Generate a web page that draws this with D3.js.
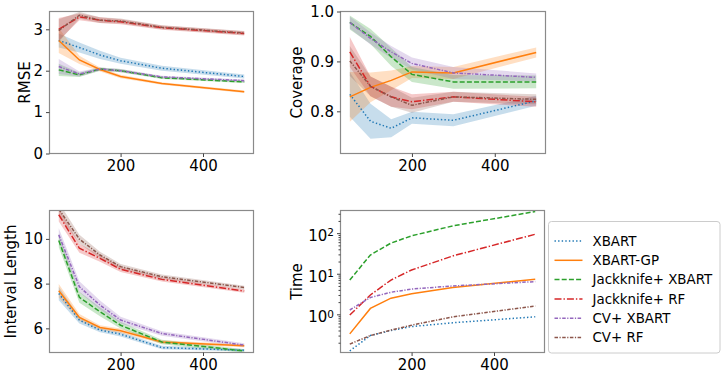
<!DOCTYPE html>
<html>
<head>
<meta charset="utf-8">
<script src="https://cdn.jsdelivr.net/npm/d3@7"></script>
<style>
  body { margin: 0; background: #fff; }
  text { font-family: "DejaVu Sans", sans-serif; }
</style>
</head>
<body>
<div id="chart"></div>
<script>
// sample sizes on the x axis
var sampleSizes = [50, 100, 150, 200, 300, 500];
var methods = ["XBART", "XBART-GP", "Jackknife+ XBART", "Jackknife+ RF", "CV+ XBART", "CV+ RF"];
var colors = ["#1f77b4", "#ff7f0e", "#2ca02c", "#d62728", "#9467bd", "#8c564b"];
var dashes = ["1.4,2.2", null, "5,2.2", "7,2,1.4,2", "3.5,1.5,1.2,1.5", "3.5,1.5,1.2,1.5"];

// one row per method, same order as `methods`
var rmse = [
  [2.73, 2.56, 2.38, 2.24, 2.06, 1.86],
  [2.73, 2.26, 2.03, 1.86, 1.69, 1.49],
  [2.02, 1.90, 2.04, 2.00, 1.83, 1.73],
  [3.00, 3.30, 3.22, 3.18, 3.04, 2.90],
  [2.10, 1.92, 2.04, 2.00, 1.85, 1.76],
  [2.97, 3.34, 3.22, 3.20, 3.05, 2.91]
];
var rmseSd = [
  [0.17, 0.12, 0.10, 0.07, 0.06, 0.05],
  [0.30, 0.10, 0.05, 0.04, 0.03, 0.03],
  [0.15, 0.05, 0.04, 0.04, 0.03, 0.03],
  [0.27, 0.08, 0.07, 0.06, 0.05, 0.05],
  [0.18, 0.06, 0.04, 0.04, 0.03, 0.03],
  [0.27, 0.08, 0.07, 0.06, 0.05, 0.05]
];

var coverage = [
  [0.834, 0.780, 0.766, 0.787, 0.782, 0.821],
  [0.829, 0.848, 0.862, 0.879, 0.877, 0.918],
  [0.978, 0.950, 0.909, 0.874, 0.859, 0.859],
  [0.919, 0.850, 0.829, 0.819, 0.829, 0.819],
  [0.978, 0.946, 0.919, 0.896, 0.877, 0.868],
  [0.901, 0.850, 0.829, 0.812, 0.829, 0.824]
];
var coverageSd = [
  [0.045, 0.035, 0.018, 0.012, 0.012, 0.010],
  [0.050, 0.030, 0.020, 0.012, 0.012, 0.010],
  [0.014, 0.015, 0.018, 0.015, 0.014, 0.013],
  [0.030, 0.020, 0.020, 0.015, 0.010, 0.010],
  [0.012, 0.012, 0.012, 0.012, 0.012, 0.008],
  [0.030, 0.020, 0.020, 0.015, 0.010, 0.010]
];

var intervalLength = [
  [7.56, 6.37, 5.92, 5.74, 5.14, 5.02],
  [7.68, 6.49, 6.04, 5.89, 5.39, 5.22],
  [9.93, 7.39, 6.74, 6.14, 5.39, 4.99],
  [11.08, 9.58, 9.13, 8.64, 8.19, 7.67],
  [10.18, 7.86, 7.04, 6.37, 5.77, 5.25],
  [11.33, 9.99, 9.28, 8.76, 8.31, 7.83]
];
var intervalSd = [
  [0.30, 0.15, 0.10, 0.10, 0.08, 0.06],
  [0.30, 0.15, 0.10, 0.10, 0.08, 0.06],
  [0.30, 0.25, 0.20, 0.15, 0.10, 0.08],
  [0.30, 0.20, 0.15, 0.12, 0.10, 0.08],
  [0.30, 0.25, 0.20, 0.15, 0.10, 0.08],
  [0.30, 0.20, 0.15, 0.12, 0.10, 0.08]
];

var timeSec = [
  [0.126, 0.30, 0.40, 0.50, 0.62, 0.87],
  [0.33, 1.4, 2.5, 3.2, 4.6, 7.3],
  [7.0, 29, 57, 86, 151, 341],
  [0.96, 3.0, 7.0, 12.4, 27.5, 94],
  [1.28, 2.6, 3.5, 4.2, 5.0, 6.4],
  [0.185, 0.30, 0.41, 0.54, 0.87, 1.6]
];

var xTicks = [200, 400];

var W = 726, H = 379;
var svg = d3.select("#chart").append("svg")
    .attr("width", W)
    .attr("height", H);

// panel boxes (pixel positions of each axes)
var panels = [
  {id: "p1", left: 49.5, top: 11.5, right: 253.5, bottom: 153.5, label: "RMSE", labelX: 30,
   values: rmse, sd: rmseSd, yDomain: [0, 3.43], yTicks: [0, 1, 2, 3], fmt: d3.format("d")},
  {id: "p2", left: 340.5, top: 11.5, right: 545.5, bottom: 153.5, label: "Coverage", labelX: 302,
   values: coverage, sd: coverageSd, yDomain: [0.7155, 1.0], yTicks: [0.8, 0.9, 1.0], fmt: d3.format(".1f")},
  {id: "p3", left: 49.5, top: 210.5, right: 253.5, bottom: 352.5, label: "Interval Length", labelX: 16,
   values: intervalLength, sd: intervalSd, yDomain: [4.92, 11.27], yTicks: [6, 8, 10], fmt: d3.format("d")},
  {id: "p4", left: 340.5, top: 210.5, right: 544.5, bottom: 352.5, label: "Time", labelX: 302,
   values: timeSec, sd: null, log: true, yDomain: [Math.pow(10, -0.94), Math.pow(10, 2.558)]}
];

panels.forEach(function(p) {
  var x = d3.scaleLinear().domain([27.5, 522.5]).range([p.left, p.right]);
  var y = (p.log ? d3.scaleLog() : d3.scaleLinear()).domain(p.yDomain).range([p.bottom, p.top]);

  svg.append("clipPath").attr("id", "clip-" + p.id)
    .append("rect")
      .attr("x", p.left).attr("y", p.top)
      .attr("width", p.right - p.left).attr("height", p.bottom - p.top);

  var g = svg.append("g").attr("clip-path", "url(#clip-" + p.id + ")");

  // shaded bands first, then the lines on top
  if (p.sd) {
    var area = d3.area()
        .x(function(d, i) { return x(sampleSizes[i]); })
        .y0(function(d) { return y(d[0] - d[1]); })
        .y1(function(d) { return y(d[0] + d[1]); });
    p.values.forEach(function(row, k) {
      var pairs = row.map(function(v, i) { return [v, p.sd[k][i]]; });
      g.append("path")
        .attr("d", area(pairs))
        .attr("fill", colors[k])
        .attr("fill-opacity", 0.25);
    });
  }

  var line = d3.line()
      .x(function(d, i) { return x(sampleSizes[i]); })
      .y(function(d) { return y(d); });

  p.values.forEach(function(row, k) {
    g.append("path")
      .attr("d", line(row))
      .attr("fill", "none")
      .attr("stroke", colors[k])
      .attr("stroke-width", 1.5)
      .attr("stroke-dasharray", dashes[k]);
  });

  // spines
  svg.append("rect")
    .attr("x", p.left).attr("y", p.top)
    .attr("width", p.right - p.left).attr("height", p.bottom - p.top)
    .attr("fill", "none")
    .attr("stroke", "#8a8a8a")
    .attr("stroke-width", 1.2);

  var xAxis = svg.append("g")
      .attr("transform", "translate(0," + p.bottom + ")")
      .call(d3.axisBottom(x).tickValues(xTicks).tickSize(3.5).tickPadding(3).tickFormat(d3.format("d")));

  var yAxis;
  if (p.log) {
    var minor = [];
    [0.1, 1, 10, 100].forEach(function(b) {
      for (var m = 2; m <= 9; m++) {
        var v = b * m;
        if (v >= p.yDomain[0] && v <= p.yDomain[1]) minor.push(v);
      }
    });
    svg.append("g")
        .attr("transform", "translate(" + p.left + ",0)")
        .call(d3.axisLeft(y).tickValues(minor).tickSize(2).tickFormat(""))
        .call(function(a) { a.select(".domain").remove(); a.selectAll("line").attr("stroke", "#444"); });

    yAxis = svg.append("g")
        .attr("transform", "translate(" + p.left + ",0)")
        .call(d3.axisLeft(y).tickValues([1, 10, 100]).tickSize(3.5).tickPadding(3).tickFormat(""));
    yAxis.selectAll(".tick text").each(function(d) {
      var t = d3.select(this);
      t.text("10");
      t.append("tspan")
        .attr("dy", "-0.45em")
        .attr("font-size", "0.7em")
        .text(Math.round(Math.log10(d)));
    });
    yAxis.selectAll(".tick text").attr("dy", "0.5em");
  } else {
    yAxis = svg.append("g")
        .attr("transform", "translate(" + p.left + ",0)")
        .call(d3.axisLeft(y).tickValues(p.yTicks).tickSize(3.5).tickPadding(3).tickFormat(p.fmt));
  }

  [xAxis, yAxis].forEach(function(a) {
    a.select(".domain").remove();
    a.selectAll("line").attr("stroke", "#444");
    a.selectAll("text")
      .attr("fill", "#000")
      .style("font-size", "15px")
      .style("font-family", "'DejaVu Sans', sans-serif");
  });

  // y axis label
  svg.append("text")
    .attr("transform", "translate(" + p.labelX + "," + ((p.top + p.bottom) / 2) + ") rotate(-90)")
    .attr("text-anchor", "middle")
    .style("font-size", "15px")
    .text(p.label);
});

// legend
var legend = svg.append("g").attr("transform", "translate(548.5,221.5)");
legend.append("rect")
  .attr("width", 171.5)
  .attr("height", 131.5)
  .attr("rx", 3)
  .attr("fill", "#fff")
  .attr("stroke", "#cccccc");

methods.forEach(function(name, k) {
  var yy = 19.5 + k * 19.3;
  legend.append("line")
    .attr("x1", 6).attr("x2", 34)
    .attr("y1", yy).attr("y2", yy)
    .attr("stroke", colors[k])
    .attr("stroke-width", 1.5)
    .attr("stroke-dasharray", dashes[k]);
  legend.append("text")
    .attr("x", 44)
    .attr("y", yy)
    .attr("dy", "0.36em")
    .style("font-size", "13.4px")
    .text(name);
});
</script>
</body>
</html>
